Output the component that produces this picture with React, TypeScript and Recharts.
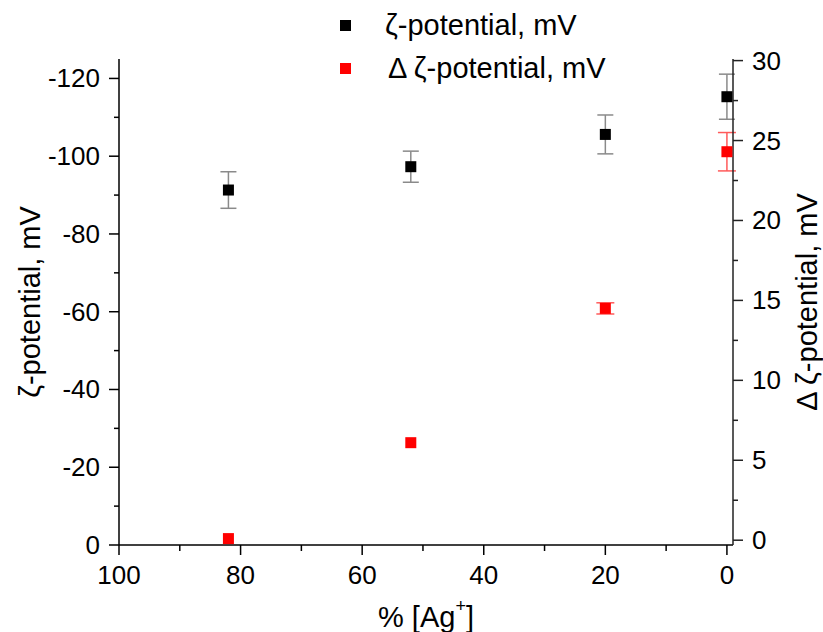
import {
  ScatterChart,
  Scatter,
  XAxis,
  YAxis,
  ErrorBar,
  Legend
} from "recharts";

// values
const agPercent = [82, 52, 20, 0]
const zetaValues = [-91.3, -97.3, -105.6, -115.3]
const zetaErrors = [4.7, 4.0, 5.0, 5.8]
const deltaZetaValues = [0.1, 6.1, 14.5, 24.3]
const deltaZetaErrors = [null, null, 0.35, 1.2]

const xTicks = [100, 90, 80, 70, 60, 50, 40, 30, 20, 10, 0]
const leftTicks = [-120, -110, -100, -90, -80, -70, -60, -50, -40, -30, -20, -10, 0]
const rightTicks = [0, 2.5, 5, 7.5, 10, 12.5, 15, 17.5, 20, 22.5, 25, 27.5, 30]

const seriesNames = ["ζ-potential, mV", "Δ ζ-potential, mV"]
const seriesColors = ["#000000", "#ff0000"]

const zetaData = agPercent.map((x, i) => ({ x, y: zetaValues[i], err: zetaErrors[i] }))
const deltaData = agPercent.map((x, i) => ({ x, y: deltaZetaValues[i], err: deltaZetaErrors[i] }))

const W = 823
const H = 632
const LEFT = 119
const RIGHT = 733
const TOP = 59
const BOTTOM = 545
const FONT = "'Liberation Sans', Arial, sans-serif"

const square = (color: string) => (props: any) => (
  <rect x={props.cx - 5.5} y={props.cy - 5.5} width={11} height={11} fill={color} />
)

const XTick = (props: any) => {
  const v = props.payload.value
  const major = v % 20 === 0
  return (
    <g>
      <line x1={props.x} x2={props.x} y1={BOTTOM} y2={BOTTOM + (major ? 10 : 6)} stroke="#000" strokeWidth={1.5} />
      {major && (
        <text x={props.x} y={BOTTOM + 30} textAnchor="middle" dominantBaseline="central"
          fontSize={26} fontFamily={FONT} fill="#000">{v}</text>
      )}
    </g>
  )
}

const LeftTick = (props: any) => {
  const v = props.payload.value
  const major = v % 20 === 0
  return (
    <g>
      <line x1={LEFT} x2={LEFT - (major ? 10 : 5)} y1={props.y} y2={props.y} stroke="#000" strokeWidth={1.5} />
      {major && (
        <text x={LEFT - 19} y={props.y} textAnchor="end" dominantBaseline="central"
          fontSize={26} fontFamily={FONT} fill="#000">{v}</text>
      )}
    </g>
  )
}

const RightTick = (props: any) => {
  const v = props.payload.value
  const major = v % 5 === 0
  return (
    <g>
      <line x1={RIGHT} x2={RIGHT + (major ? 10 : 5)} y1={props.y} y2={props.y} stroke="#222" strokeWidth={1.5} />
      {major && (
        <text x={RIGHT + 19} y={props.y} textAnchor="start" dominantBaseline="central"
          fontSize={26} fontFamily={FONT} fill="#000">{v}</text>
      )}
    </g>
  )
}

// legend drawn in series order, as in the figure
const renderLegend = () => (
  <div style={{ position: "relative", width: W, height: 95, fontFamily: FONT }}>
    {seriesNames.map((name, i) => (
      <div key={i} style={{ position: "absolute", top: 4 + i * 43, left: 340, height: 43, display: "flex", alignItems: "center" }}>
        <div style={{ width: 11, height: 11, background: seriesColors[i] }} />
        <span style={{ marginLeft: i === 0 ? 34 : 37, fontSize: 29, color: "#000", whiteSpace: "nowrap" }}>
          {name}
        </span>
      </div>
    ))}
  </div>
)

export default function App() {
  return (
    <div style={{ position: "absolute", left: 0, top: 0, width: W, height: H, background: "#fff" }}>
      <ScatterChart width={W} height={H} margin={{ top: TOP, right: 0, bottom: 0, left: 0 }}>
        <XAxis
          type="number"
          dataKey="x"
          domain={[-1, 100]}
          reversed
          ticks={xTicks}
          interval={0}
          height={H - BOTTOM}
          axisLine={{ stroke: "#000", strokeWidth: 1.5 }}
          tickLine={false}
          tick={<XTick />}
          label={{
            content: () => (
              <text x={(LEFT + RIGHT) / 2} y={617} textAnchor="middle" dominantBaseline="central"
                fontSize={29} fontFamily={FONT} fill="#000">
                % [Ag<tspan dy={-11} fontSize={18}>+</tspan><tspan dy={11}>]</tspan>
              </text>
            )
          }}
        />
        <YAxis
          yAxisId="left"
          type="number"
          dataKey="y"
          orientation="left"
          domain={[-125, 0]}
          reversed
          ticks={leftTicks}
          interval={0}
          width={LEFT}
          axisLine={{ stroke: "#000", strokeWidth: 1.5 }}
          tickLine={false}
          tick={<LeftTick />}
          label={{
            content: () => (
              <text x={30} y={(TOP + BOTTOM) / 2} textAnchor="middle" dominantBaseline="central"
                transform={`rotate(-90, 30, ${(TOP + BOTTOM) / 2})`}
                fontSize={29} fontFamily={FONT} fill="#000">
                ζ-potential, mV
              </text>
            )
          }}
        />
        <YAxis
          yAxisId="right"
          type="number"
          dataKey="y"
          orientation="right"
          domain={[-0.3, 30.1]}
          ticks={rightTicks}
          interval={0}
          width={W - RIGHT}
          axisLine={{ stroke: "#222", strokeWidth: 1.5 }}
          tickLine={false}
          tick={<RightTick />}
          label={{
            content: () => (
              <text x={807} y={(TOP + BOTTOM) / 2} textAnchor="middle" dominantBaseline="central"
                transform={`rotate(-90, 807, ${(TOP + BOTTOM) / 2})`}
                fontSize={29} fontFamily={FONT} fill="#000">
                Δ ζ-potential, mV
              </text>
            )
          }}
        />
        <Legend
          layout="vertical"
          verticalAlign="middle"
          align="center"
          content={renderLegend}
          wrapperStyle={{ top: 0, left: 0, width: W }}
        />
        <Scatter
          name={seriesNames[0]}
          yAxisId="left"
          data={zetaData}
          fill={seriesColors[0]}
          shape={square(seriesColors[0])}
          isAnimationActive={false}
        >
          <ErrorBar dataKey="err" direction="y" width={8} stroke="#8a8a8a" strokeWidth={1.5} />
        </Scatter>
        <Scatter
          name={seriesNames[1]}
          yAxisId="right"
          data={deltaData}
          fill={seriesColors[1]}
          shape={square(seriesColors[1])}
          isAnimationActive={false}
        >
          <ErrorBar dataKey="err" direction="y" width={9} stroke="#ff5a5a" strokeWidth={1.5} />
        </Scatter>
      </ScatterChart>
    </div>
  )
}
